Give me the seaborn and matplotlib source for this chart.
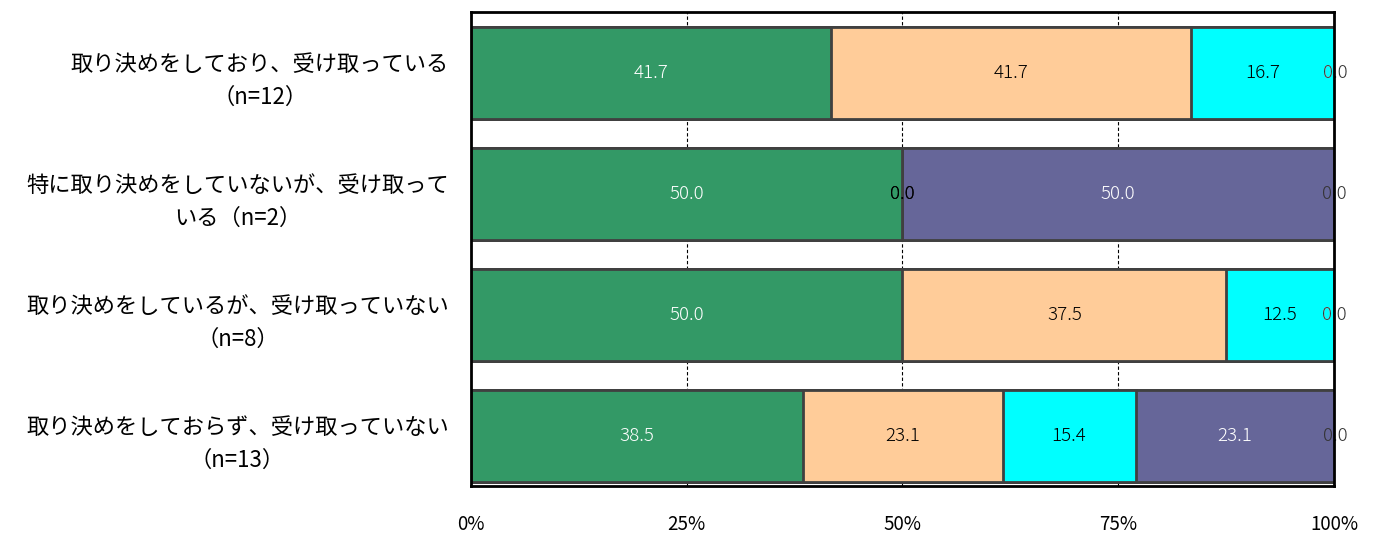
import matplotlib
matplotlib.use('Agg')
import matplotlib.pyplot as plt
import seaborn as sns
import numpy as np
import pandas as pd

# データ
categories = [
    '取り決めをしており、受け取っている\n（n=12）',
    '特に取り決めをしていないが、受け取って\nいる（n=2）',
    '取り決めをしているが、受け取っていない\n（n=8）',
    '取り決めをしておらず、受け取っていない\n（n=13）',
]
series_names = ['s1', 's2', 's3', 's4', 's5']
s1 = [41.7, 50.0, 50.0, 38.5]
s2 = [41.7, 0.0, 37.5, 23.1]
s3 = [16.7, 0.0, 12.5, 15.4]
s4 = [0.0, 50.0, 0.0, 23.1]
s5 = [0.0, 0.0, 0.0, 0.0]
colors = ['#339966', '#FFCC99', '#00FFFF', '#666699', '#CCCCCC']
label_colors = ['white', 'black', 'black', 'white', '#333333']
xticks = [0, 25, 50, 75, 100]
xticklabels = ['0%', '25%', '50%', '75%', '100%']

sns.set_style('white')
plt.rcParams['font.family'] = ['Noto Sans CJK JP', 'DejaVu Sans']

values = np.array([s1, s2, s3, s4, s5])
cum = np.cumsum(values, axis=0)

fig = plt.figure(figsize=(13.73, 5.34), dpi=100)
ax = fig.add_axes([0.343, 0.0899, 0.6286, 0.8876])

# 累積値を後ろから重ねて描く
for i in range(len(series_names) - 1, -1, -1):
    df = pd.DataFrame({'cat': categories, 'val': cum[i]})
    sns.barplot(data=df, x='val', y='cat', orient='h', color=colors[i],
                saturation=1, width=0.76, edgecolor='#404040', linewidth=2,
                ax=ax, zorder=2)

# ラベル
for i in range(len(series_names)):
    for j in range(len(categories)):
        xc = cum[i][j] - values[i][j] / 2
        ax.text(xc, j, f'{values[i][j]:.1f}', ha='center', va='center',
                fontsize=13.5, fontweight='light', color=label_colors[i], zorder=5)

ax.set_xlim(0, 100)
ax.set_ylim(3.41, -0.504)
ax.set_xticks(xticks)
ax.set_xticklabels(xticklabels, fontsize=13.5)
ax.set_xlabel('')
ax.set_ylabel('')
ax.tick_params(axis='x', length=0, pad=20, labelcolor='black')
ax.tick_params(axis='y', length=0, pad=16, labelsize=16, labelcolor='black')
for lbl in ax.get_yticklabels():
    lbl.set_multialignment('center')
    lbl.set_linespacing(1.55)

ax.grid(False)
for x in xticks[1:-1]:
    ax.axvline(x, color='black', linestyle=(0, (3, 2)), linewidth=0.8, zorder=1)

for sp in ax.spines.values():
    sp.set_visible(True)
    sp.set_color('black')
    sp.set_linewidth(2)
    sp.set_zorder(6)

fig.savefig('out.png', dpi=100)
plt.close(fig)
